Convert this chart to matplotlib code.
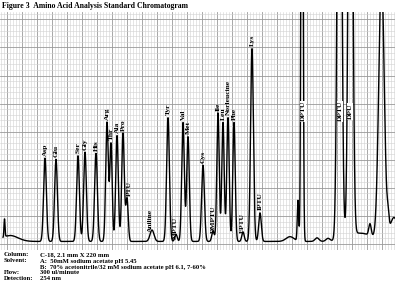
import numpy as np
import matplotlib
matplotlib.use("Agg")
import matplotlib.pyplot as plt

# peaks: retention time (min), height above baseline
peak_time = [0.45, 1.0, 4.5, 5.6, 7.8, 8.5, 9.6, 10.7, 11.1, 11.7, 12.3, 12.7,
             15.2, 16.8, 17.6, 18.3, 18.8, 20.3, 21.3, 21.8, 22.3, 22.8, 23.4,
             24.3, 25.2, 26.0, 29.0, 29.8, 30.2, 31.7, 32.8, 33.95, 35.05,
             36.0, 37.0, 38.15, 38.8, 39.4]
peak_height = [7.5, 2.5, 35, 34.5, 36, 37.5, 37, 50, 41, 44.5, 45.5, 18,
               4.8, 52, 3, 50, 44, 32, 4.5, 54, 50, 52, 50,
               4, 81, 12, 2, 17, 300, 1.5, 1.2, 280, 280,
               3.5, 5, 112, 6, 10]
peak_width = [0.05, 0.8, 0.14, 0.14, 0.14, 0.14, 0.14, 0.13, 0.12, 0.13, 0.13, 0.12,
              0.2, 0.14, 0.12, 0.13, 0.13, 0.14, 0.12, 0.12, 0.12, 0.12, 0.12,
              0.12, 0.14, 0.13, 0.4, 0.07, 0.09, 0.2, 0.2, 0.19, 0.19,
              1.2, 0.12, 0.27, 0.1, 0.4]
baseline = 3.6

labels = ["Asp", "Glu", "Ser", "Gly", "His", "Arg", "Thr", "Ala", "Pro", "PTU",
          "Aniline", "Tyr", "MPTU", "Val", "Met", "Cys", "DMPTU", "Ile", "Leu",
          "Norleucine", "Phe", "EPTU", "Lys", "IPTU", "DPTU", "DPTU", "DPU"]
label_time = [4.5, 5.6, 7.8, 8.5, 9.6, 10.7, 11.1, 11.7, 12.3, 12.9,
              15.0, 16.8, 17.5, 18.3, 18.8, 20.3, 21.3, 21.8, 22.3,
              22.8, 23.4, 24.2, 25.2, 26.0, 30.3, 34.0, 35.0]
# where the bottom of each label sits (signal units); others sit just above the peak
label_base = {"PTU": 22.5, "MPTU": 4.5, "DMPTU": 7.1, "EPTU": 7.1,
              "DPTU": 54.0, "DPU": 55.0}

plt.rcParams['font.family'] = ['Liberation Serif', 'DejaVu Serif']
plt.rcParams['font.weight'] = 'bold'

fig = plt.figure(figsize=(3.95, 2.86), dpi=100)
ax = fig.add_axes([0, 36/286, 1, 238/286])
ax.set_xlim(0, 39.5)
ax.set_ylim(0, 100)

# chart paper grid
ax.set_xticks(np.arange(0.7, 39.5, 1.5))
ax.set_xticks(np.arange(0.1, 39.5, 0.3), minor=True)
ax.set_yticks(np.arange(2.5, 100, 11.8))
ax.set_yticks(np.arange(0.14, 100, 2.36), minor=True)
ax.grid(which='minor', color='#d2d2d2', lw=0.4)
ax.grid(which='major', color='#999999', lw=0.6)
ax.tick_params(which='both', length=0, labelbottom=False, labelleft=False)
for s in ax.spines.values():
    s.set_visible(False)

t = np.linspace(0.3, 39.5, 20000)
sig = np.full_like(t, baseline)
for pt, ph, pw in zip(peak_time, peak_height, peak_width):
    sig += ph * np.exp(-(t - pt) ** 2 / (2 * pw ** 2))
ax.plot(t, sig, color='black', lw=1.0)

for name, lt in zip(labels, label_time):
    box = None
    if name in label_base:
        yb = label_base[name]
        if name in ("DPTU", "DPU"):
            box = dict(facecolor='white', edgecolor='none', pad=0.4)
    else:
        yb = np.interp(lt, t, sig) + 1.0
    ax.text(lt, yb, name, rotation=90, ha='center', va='bottom', fontsize=5.4,
            fontweight='bold', bbox=box)

fig.text(0.005, 0.978, "Figure 3  Amino Acid Analysis Standard Chromatogram",
         fontsize=5.6, fontweight='bold', va='center')

rows = [("Column:", "C-18, 2.1 mm X 220 mm"),
        ("Solvent:", "A:  50mM sodium acetate pH 5.45"),
        ("", "B:  70% acetonitrile/32 mM sodium acetate pH 6.1, 7-60%"),
        ("Flow:", "300 ul/minute"),
        ("Detection:", "254 nm")]
for i, (k, v) in enumerate(rows):
    y = 1 - (255 + i * 6) / 286
    fig.text(4 / 395, y, k, fontsize=4.8, fontweight='bold', va='center')
    fig.text(40 / 395, y, v, fontsize=4.8, fontweight='bold', va='center')

plt.savefig("out.png", dpi=100)
